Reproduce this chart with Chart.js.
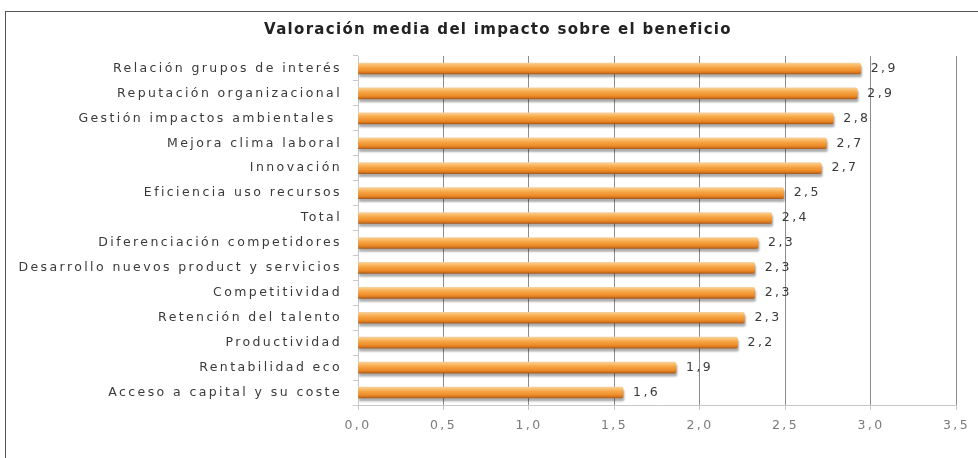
<!DOCTYPE html>
<html>
<head>
<meta charset="utf-8">
<script src="https://cdn.jsdelivr.net/npm/chart.js@4/dist/chart.umd.min.js"></script>
<style>
    html, body { margin: 0; padding: 0; background: #fff; overflow: hidden; }
    #wrap { position: relative; width: 978px; height: 458px; }
    #frame { position: absolute; left: 5px; top: 11px; width: 1100px; height: 600px; border-left: 1px solid #555; border-top: 1px solid #555; }
    #c { position: absolute; left: 0; top: 0; }
</style>
</head>
<body>
<div id="wrap">
    <div id="frame"></div>
    <canvas id="c" width="978" height="458"></canvas>
</div>
<script>
/* Valoración media del impacto sobre el beneficio — barras horizontales */
const TITLE = 'Valoración media del impacto sobre el beneficio';

const categories = [
    'Relación grupos de interés',
    'Reputación organizacional',
    'Gestión impactos ambientales ',
    'Mejora clima laboral',
    'Innovación',
    'Eficiencia uso recursos',
    'Total',
    'Diferenciación competidores',
    'Desarrollo nuevos product y servicios',
    'Competitividad',
    'Retención del talento',
    'Productividad',
    'Rentabilidad eco',
    'Acceso a capital y su coste',
];

const values = [2.94, 2.92, 2.78, 2.74, 2.71, 2.49, 2.42, 2.34, 2.32, 2.32, 2.26, 2.22, 1.86, 1.55];

const xTickLabels = ['0,0', '0,5', '1,0', '1,5', '2,0', '2,5', '3,0', '3,5'];

const FONT = 'DejaVu Sans';
const SPACING = '2.4px';
const BAR_H = 11;

function fmt(v) {
    return v.toFixed(1).replace('.', ',');
}

function barFill(ctx) {
    const chart = ctx.chart;
    const y = chart.scales && chart.scales.y;
    if (!chart.chartArea || !y || ctx.dataIndex === undefined) return '#f0962e';
    const yc = y.getPixelForValue(ctx.dataIndex);
    const g = chart.ctx.createLinearGradient(0, yc - BAR_H / 2, 0, yc + BAR_H / 2);
    g.addColorStop(0, '#f4cf9e');
    g.addColorStop(0.15, '#fbc172');
    g.addColorStop(0.4, '#f6a445');
    g.addColorStop(0.7, '#ee8f2b');
    g.addColorStop(0.88, '#d8761d');
    g.addColorStop(1, '#a65a1c');
    return g;
}

// espaciado de letras tipo Excel; el contexto se reinicia al redimensionar
const spacingPlugin = {
    id: 'spacing',
    beforeUpdate(chart) { chart.ctx.letterSpacing = SPACING; },
    beforeDraw(chart) { chart.ctx.letterSpacing = SPACING; },
};

const barDecor = {
    id: 'barDecor',
    beforeDatasetsDraw(chart) {
        const c = chart.ctx;
        c.shadowColor = 'rgba(0,0,0,0.32)';
        c.shadowOffsetX = 1;
        c.shadowOffsetY = 3;
        c.shadowBlur = 2;
    },
    afterDatasetsDraw(chart) {
        const c = chart.ctx;
        c.shadowColor = 'rgba(0,0,0,0)';
        c.shadowOffsetX = 0;
        c.shadowOffsetY = 0;
        c.shadowBlur = 0;

        c.save();
        c.letterSpacing = SPACING;
        c.font = '12.5px "' + FONT + '"';
        c.fillStyle = '#3a3a3a';
        c.textAlign = 'left';
        c.textBaseline = 'middle';
        chart.getDatasetMeta(0).data.forEach((bar, i) => {
            c.fillText(fmt(values[i]), bar.x + 10, bar.y);
        });
        c.restore();
    },
    afterDraw(chart) {
        const c = chart.ctx;
        c.save();
        c.letterSpacing = '1.3px';
        c.font = 'bold 15px "' + FONT + '"';
        c.fillStyle = '#222';
        c.textAlign = 'center';
        c.textBaseline = 'middle';
        c.fillText(TITLE, 498, 30);
        c.restore();
    },
};

new Chart(document.getElementById('c'), {
    type: 'bar',
    data: {
        labels: categories,
        datasets: [{
            data: values,
            backgroundColor: barFill,
            barThickness: BAR_H,
            borderRadius: { topRight: 2, bottomRight: 2 },
            borderSkipped: 'start',
        }],
    },
    options: {
        indexAxis: 'y',
        responsive: false,
        animation: false,
        devicePixelRatio: 1,
        layout: { padding: { top: 56, right: 20, bottom: 0, left: 0 } },
        plugins: { legend: { display: false }, tooltip: { enabled: false }, title: { display: false } },
        scales: {
            x: {
                min: 0,
                max: 3.5,
                afterFit(scale) { scale.height = 53; },
                grid: {
                    color: (ctx) => (ctx.index === 0 ? '#c8c8c8' : '#8c8c8c'),
                    lineWidth: 1,
                    tickColor: '#c8c8c8',
                    tickLength: 5,
                },
                border: { color: '#c8c8c8' },
                ticks: {
                    stepSize: 0.5,
                    padding: 8,
                    color: '#7a7a7a',
                    font: { family: FONT, size: 12.5 },
                    callback: (v, i) => xTickLabels[i],
                },
            },
            y: {
                afterFit(scale) { scale.width = 358; },
                grid: {
                    drawOnChartArea: false,
                    color: '#c8c8c8',
                    tickLength: 5,
                },
                border: { color: '#c8c8c8' },
                ticks: {
                    padding: 11,
                    color: '#3a3a3a',
                    font: { family: FONT, size: 12.5 },
                },
            },
        },
    },
    plugins: [spacingPlugin, barDecor],
});
</script>
</body>
</html>
